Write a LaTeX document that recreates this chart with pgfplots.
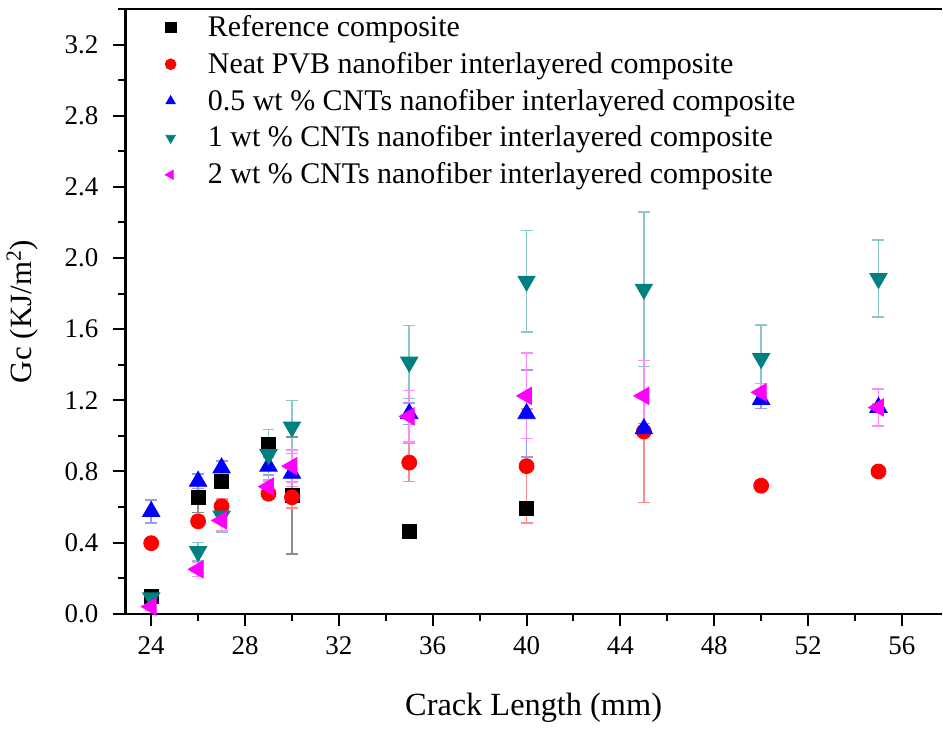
\documentclass[border=0pt]{standalone}
\usepackage{fontspec}
\setmainfont{Liberation Serif}
\usepackage{pgfplots}
\usepackage{pgfplotstable}
\pgfplotsset{compat=1.18}
\definecolor{cteal}{RGB}{0,128,128}
\definecolor{cmag}{RGB}{255,0,255}

\pgfplotstableread{
x y e
24 0.100 0.02
26 0.655 0.085
27 0.745 0.03
29 0.955 0.03
30 0.665 0.33
35 0.465 0.0
40 0.595 0.0
}\tref
\pgfplotstableread{
x y e
24 0.397 0.01
26 0.520 0.03
27 0.604 0.04
29 0.675 0.02
30 0.655 0.06
35 0.850 0.107
40 0.830 0.32
45 1.025 0.40
50 0.720 0.0
55 0.800 0.0
}\tpvb
\pgfplotstableread{
x y e
24 0.575 0.065
26 0.745 0.04
27 0.820 0.04
29 0.830 0.05
30 0.790 0.13
35 1.125 0.06
40 1.125 0.245
45 1.040 0.03
50 1.205 0.05
55 1.160 0.02
}\tcnta
\pgfplotstableread{
x y e
24 0.090 0.02
26 0.350 0.05
27 0.550 0.09
29 0.895 0.14
30 1.050 0.15
35 1.415 0.205
40 1.870 0.285
45 1.825 0.435
50 1.435 0.19
55 1.885 0.215
}\tcntb
\pgfplotstableread{
x y e
24 0.040 0.02
26 0.250 0.04
27 0.525 0.06
29 0.715 0.03
30 0.830 0.09
35 1.110 0.145
40 1.225 0.24
45 1.225 0.20
50 1.245 0.05
55 1.160 0.105
}\tcntc

\begin{document}
\begin{tikzpicture}
\begin{axis}[
  scale only axis, width=409pt, height=303pt,
  xmin=22.9, xmax=57.7, ymin=0, ymax=3.4,
  axis x line*=box, axis y line*=left,
  axis line style={-, line width=1.2pt},
  xtick pos=left, ytick pos=left,
  tick align=outside,
  xtick={24,28,...,56}, minor xtick={26,30,...,58},
  ytick={0,0.4,...,3.2}, minor ytick={0.2,0.6,...,3.4},
  major tick length=6pt, minor tick length=3.5pt,
  every tick/.style={black, line width=1pt},
  tick label style={font=\rmfamily\fontsize{13.5}{16}\selectfont},
  /pgf/number format/assume math mode=true,
  y tick label style={xshift=-4pt, /pgf/number format/fixed, /pgf/number format/fixed zerofill, /pgf/number format/precision=1},
  x tick label style={yshift=-2pt},
  xlabel={Crack Length (mm)},
  ylabel={Gc (KJ/m\textsuperscript{2})},
  xlabel style={font=\fontsize{16.2}{19}\selectfont, yshift=-12pt},
  ylabel style={font=\fontsize{15.5}{18}\selectfont, yshift=6.5pt},
  legend style={at={(0.041,1.0)}, anchor=north west, yshift=1pt, draw=none, fill=none,
    font=\fontsize{15}{17}\selectfont, row sep=2.4pt, column sep=14pt},
  legend cell align=left,
  every legend image post/.append style={mark size=2.7pt},
  after end axis/.code={\path (rel axis cs:0,1) ++(0,4.5pt);},
]
\addplot[only marks, black, mark=square*, mark size=3.5pt,
  error bars/.cd, y dir=both, y explicit,
  error bar style={black!45, line width=0.8pt},
  error mark options={rotate=90, mark size=3pt, black!45, line width=0.8pt}]
  table[x=x, y=y, y error=e] {\tref};
\addlegendentry{Reference composite}
\addplot[only marks, red, mark=*, mark size=3.75pt,
  error bars/.cd, y dir=both, y explicit,
  error bar style={red!45, line width=0.8pt},
  error mark options={rotate=90, mark size=3pt, red!45, line width=0.8pt}]
  table[x=x, y=y, y error=e] {\tpvb};
\addlegendentry{Neat PVB nanofiber interlayered composite}
\addplot[only marks, blue, mark=triangle*, mark size=5pt,
  error bars/.cd, y dir=both, y explicit,
  error bar style={blue!40, line width=0.8pt},
  error mark options={rotate=90, mark size=3pt, blue!40, line width=0.8pt}]
  table[x=x, y=y, y error=e] {\tcnta};
\addlegendentry{0.5 wt \% CNTs nanofiber interlayered composite}
\addplot[only marks, cteal, mark=triangle*, mark size=5pt, mark options={rotate=180},
  error bars/.cd, y dir=both, y explicit,
  error bar style={cteal!45, line width=0.8pt},
  error mark options={rotate=90, mark size=3pt, cteal!45, line width=0.8pt}]
  table[x=x, y=y, y error=e] {\tcntb};
\addlegendentry{1 wt \% CNTs nanofiber interlayered composite}
\addplot[only marks, cmag, mark=triangle*, mark size=5pt, mark options={rotate=90},
  error bars/.cd, y dir=both, y explicit,
  error bar style={cmag!45, line width=0.8pt},
  error mark options={rotate=90, mark size=3pt, cmag!45, line width=0.8pt}]
  table[x=x, y=y, y error=e] {\tcntc};
\addlegendentry{2 wt \% CNTs nanofiber interlayered composite}
\end{axis}
\end{tikzpicture}
\end{document}
